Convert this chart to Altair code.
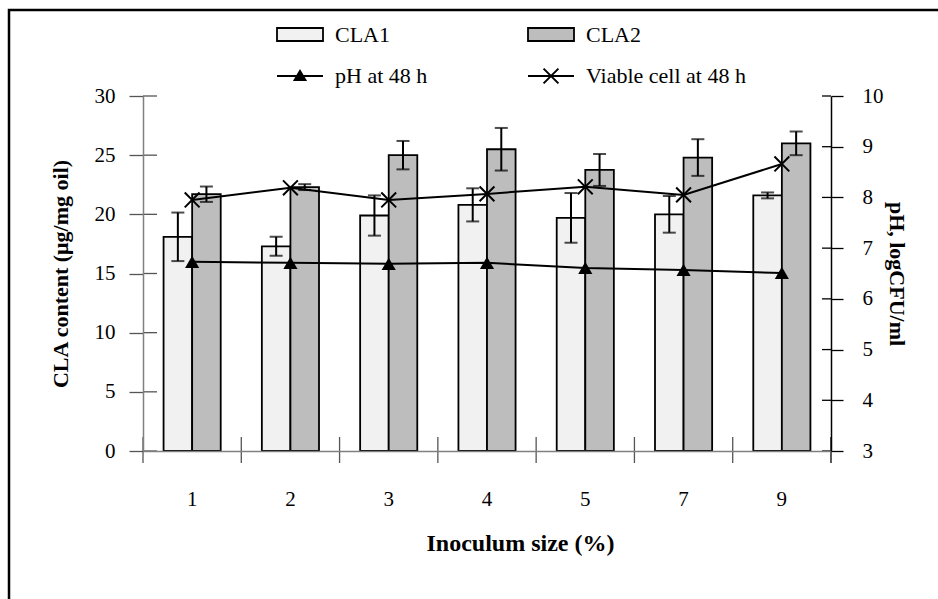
import altair as alt
import pandas as pd

# ---------------- data ----------------
categories = ["1", "2", "3", "4", "5", "7", "9"]
cla1 = [18.1, 17.3, 19.9, 20.8, 19.7, 20.0, 21.6]
cla1_err = [2.05, 0.8, 1.7, 1.4, 2.1, 1.55, 0.25]
cla2 = [21.7, 22.3, 25.0, 25.5, 23.75, 24.8, 26.0]
cla2_err = [0.65, 0.25, 1.2, 1.8, 1.35, 1.55, 1.0]
ph_48h = [6.73, 6.71, 6.69, 6.71, 6.61, 6.57, 6.51]
viable_48h = [7.95, 8.19, 7.95, 8.07, 8.21, 8.05, 8.66]

series_names = ["CLA1", "CLA2"]
legend_labels = ["CLA1", "CLA2", "pH at 48 h", "Viable cell at 48 h"]
left_ticks = [0, 5, 10, 15, 20, 25, 30]
right_ticks = [3, 4, 5, 6, 7, 8, 9, 10]

# ---------------- layout constants ----------------
W, H = 688, 355
FONT = "Liberation Serif"
FILLS = ["#f1f1f1", "#bdbdbd"]
X_SHAPE = "M-1,-1L1,1M-1,1L1,-1"
TRI = 200
XS = 220
LBL = 21
TTL = 22

bars_df = pd.DataFrame({
    "cat": categories * 2,
    "series": [series_names[0]] * len(categories) + [series_names[1]] * len(categories),
    "value": cla1 + cla2,
    "err": cla1_err + cla2_err,
})
bars_df["lo"] = bars_df["value"] - bars_df["err"]
bars_df["hi"] = bars_df["value"] + bars_df["err"]

lines_df = pd.DataFrame({"cat": categories, "ph": ph_48h, "viable": viable_48h})

left_scale = alt.Scale(domain=[0, 30], nice=False, zero=True)
right_scale = alt.Scale(domain=[3, 10], nice=False, zero=False)
x_scale = alt.Scale(paddingInner=0, paddingOuter=0)
xoff = alt.XOffset("series:N", sort=series_names,
                   scale=alt.Scale(paddingInner=0, paddingOuter=0.72))

x_axis = alt.Axis(title="Inoculum size (%)", ticks=False, labelAngle=0,
                  domainColor="#808080", domainWidth=1.5, zindex=1,
                  labelPadding=37, titlePadding=22, titleX=377, titleAlign="center",
                  labelFontSize=LBL, titleFontSize=24, titleFontWeight="bold",
                  labelColor="black", titleColor="black")
left_axis = alt.Axis(values=left_ticks, title="CLA content (μg/mg oil)",
                     grid=False, tickSize=14, tickColor="#555555", tickWidth=1.3,
                     domainColor="#808080", domainWidth=1.5, zindex=1,
                     labelPadding=14, titlePadding=22,
                     labelFontSize=LBL, titleFontSize=TTL, titleFontWeight="bold",
                     labelColor="black", titleColor="black")
right_axis = alt.Axis(values=right_ticks, title="pH, logCFU/ml", orient="right",
                      grid=False, tickSize=12, tickColor="black", tickWidth=1.3,
                      domainColor="black", domainWidth=1.5, zindex=1,
                      labelPadding=19, titlePadding=1,
                      labelFontSize=LBL, titleFontSize=TTL, titleFontWeight="bold",
                      labelColor="black", titleColor="black")

def X(**kw):
    return alt.X("cat:N", sort=categories, scale=x_scale, axis=x_axis, **kw)

def YL(field):
    return alt.Y(field, scale=left_scale, axis=left_axis)

def YR(field):
    return alt.Y(field, scale=right_scale, axis=right_axis)

bars = alt.Chart(bars_df).mark_bar(stroke="black", strokeWidth=1.8).encode(
    x=X(), xOffset=xoff, y=YL("value:Q"),
    color=alt.Color("series:N", scale=alt.Scale(domain=series_names, range=FILLS), legend=None),
)
err_rule = alt.Chart(bars_df).mark_rule(color="black", strokeWidth=2).encode(
    x=X(), xOffset=xoff, y=YL("lo:Q"), y2="hi:Q")
cap_hi = alt.Chart(bars_df).mark_tick(color="black", size=13, thickness=2).encode(
    x=X(), xOffset=xoff, y=YL("hi:Q"))
cap_lo = alt.Chart(bars_df).mark_tick(color="black", size=13, thickness=2).encode(
    x=X(), xOffset=xoff, y=YL("lo:Q"))

left_ticks_df = pd.DataFrame({"v": left_ticks})
left_inner = alt.Chart(left_ticks_df).mark_rule(color="#555555", strokeWidth=1.3).encode(
    y=YL("v:Q"), x=alt.value(0), x2=alt.value(14))

# category boundary ticks on the x axis
cat_df = pd.DataFrame({"cat": categories})
x_ticks = alt.Chart(cat_df).mark_rule(color="#555555", strokeWidth=1.3).encode(
    x=X(bandPosition=0), y=alt.value(H - 14), y2=alt.value(H + 12))
last_df = pd.DataFrame({"cat": [categories[-1]]})
x_tick_end = alt.Chart(last_df).mark_rule(color="black", strokeWidth=1.3).encode(
    x=X(bandPosition=1), y=alt.value(H - 14), y2=alt.value(H + 12))

left_layer = alt.layer(bars, err_rule, cap_hi, cap_lo, left_inner, x_ticks, x_tick_end)

ph_line = alt.Chart(lines_df).mark_line(color="black", strokeWidth=2).encode(
    x=X(), y=YR("ph:Q"))
via_line = alt.Chart(lines_df).mark_line(color="black", strokeWidth=2).encode(
    x=X(), y=YR("viable:Q"))
ph_pts = alt.Chart(lines_df).mark_point(shape="triangle-up", filled=True, color="black",
                                        size=TRI, opacity=1).encode(x=X(), y=YR("ph:Q"))
via_pts = alt.Chart(lines_df).mark_point(shape=X_SHAPE, filled=False, color="black",
                                         strokeWidth=2, size=XS, opacity=1).encode(
    x=X(), y=YR("viable:Q"))

right_ticks_df = pd.DataFrame({"v": right_ticks})
right_inner = alt.Chart(right_ticks_df).mark_rule(color="black", strokeWidth=1.3).encode(
    y=YR("v:Q"), x=alt.value(W - 9), x2=alt.value(W))

right_layer = alt.layer(ph_line, via_line, ph_pts, via_pts, right_inner)

# ---------------- hand-drawn legend ----------------
def lab(i):
    return pd.DataFrame({"label": [legend_labels[i]]})

def legend_text(i, x, y):
    return alt.Chart(lab(i)).mark_text(align="left", baseline="middle", fontSize=22,
                                       font=FONT, color="black").encode(
        x=alt.value(x), y=alt.value(y), text="label:N")

def swatch(i, x, y, fill):
    return alt.Chart(lab(i)).mark_rect(fill=fill, stroke="black", strokeWidth=1.8).encode(
        x=alt.value(x), x2=alt.value(x + 46), y=alt.value(y), y2=alt.value(y + 13))

def seg(i, x, y):
    return alt.Chart(lab(i)).mark_rule(color="black", strokeWidth=2).encode(
        x=alt.value(x), x2=alt.value(x + 46), y=alt.value(y))

def sym(i, x, y, shape, filled, size):
    return alt.Chart(lab(i)).mark_point(shape=shape, filled=filled, color="black",
                                        strokeWidth=2, size=size, opacity=1).encode(
        x=alt.value(x), y=alt.value(y))

legend = alt.layer(
    swatch(0, 134, -68, FILLS[0]), legend_text(0, 192, -61),
    swatch(1, 385, -68, FILLS[1]), legend_text(1, 443, -61),
    seg(2, 134, -20), sym(2, 157, -21, "triangle-up", True, TRI), legend_text(2, 192, -20),
    seg(3, 385, -20), sym(3, 408, -20, X_SHAPE, False, XS), legend_text(3, 443, -20),
)

frame = alt.Chart(lab(0)).mark_rect(fill="white", fillOpacity=0, stroke="black",
                                    strokeWidth=2.5).encode(
    x=alt.value(9 - 143), y=alt.value(10 - 96), x2=alt.value(W + 200), y2=alt.value(H + 200))

chart = alt.layer(
    left_layer, right_layer, frame, legend
).resolve_scale(y="independent").properties(
    width=W, height=H,
    padding={"left": 143, "top": 96, "right": 107, "bottom": 148},
    autosize=alt.AutoSizeParams(type="none"),
).configure(font=FONT).configure_view(stroke=None)

chart.save("out.html", embed_options={"renderer": "svg", "actions": False})
